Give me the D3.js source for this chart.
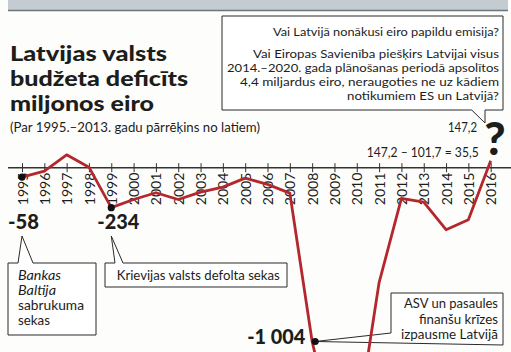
<!DOCTYPE html>
<html><head><meta charset="utf-8">
<script src="https://cdn.jsdelivr.net/npm/d3@7"></script>
<style>
html,body{margin:0;padding:0;background:#fdfdfb;}
svg{display:block;}
text{font-family:Lato,"Open Sans",sans-serif;fill:#1d1d1b;}
</style></head><body>
<svg id="c" width="511" height="352"></svg>
<script>
// ---------- data ----------
const years = [1995,1996,1997,1998,1999,2000,2001,2002,2003,2004,2005,2006,2007,2008,2009,2010,2011,2012,2013,2014,2015,2016];
const yearLabels = ["1995","1996","1997","1998","1999","2000","2001","2002","2003","2004","2005","2006","2007","2008","2009","2010","2011","2012","2013","2014","2015","2016"];
const deficit = [-58,-24,70,-1,-234,-187,-148,-187,-145,-116,-64,-100,-150,-1004,-1550,-1500,-665,-181,-202,-361,-304,35.5];
const markedYears = [1995,1999,2008];
const markedLabels = ["-58","-234","-1 004"];
const titleLines = ["Latvijas valsts","budžeta deficīts","miljonos eiro"];
const subtitle = "(Par 1995.–2013. gadu pārrēķins no latiem)";
const questionLines = ["Vai Latvijā nonākusi eiro papildu emisija?","Vai Eiropas Savienība piešķirs Latvijai visus","2014.–2020. gada plānošanas periodā apsolītos","4,4 miljardus eiro, neraugoties ne uz kādiem","notikumiem ES un Latvijā?"];
const noteBaltija = ["Bankas","Baltija","sabrukuma","sekas"];
const noteRussia = ["Krievijas valsts defolta sekas"];
const noteCrisis = ["ASV un pasaules","finanšu krīzes","izpausme Latvijā"];
const forecastLabel = "147,2";
const formulaLabel = "147,2 – 101,7 = 35,5";

// ---------- drawing ----------
const svg = d3.select("#c");
const W = 511, H = 352;
const x = d3.scaleLinear().domain([1995,2016]).range([22,490.7]);
const y = d3.scaleLinear().domain([0,-1004]).range([167,341.5]);

function fit(sel, widths){
  sel.each(function(d,i){
    const w = widths[i];
    if (w) d3.select(this).attr("textLength", w).attr("lengthAdjust","spacingAndGlyphs");
  });
}

// top grey bar
svg.append("rect").attr("x",8).attr("y",0).attr("width",500).attr("height",10).attr("fill","#c5ccd1");
svg.append("line").attr("x1",8).attr("x2",508).attr("y1",10.5).attr("y2",10.5).attr("stroke","#6d767c").attr("stroke-width",1.5);

// title
const t = svg.append("g");
t.selectAll("text.title").data(titleLines).join("text").attr("class","title")
  .attr("x",10).attr("y",(d,i)=>60.5+i*25)
  .style("font-size","21px").style("font-weight",900).text(d=>d)
  .call(fit,[157,178,144]);
t.append("text").attr("x",10).attr("y",132).style("font-size","13px").text(subtitle).call(fit,[250]);

// callout boxes
const boxStyle = s => s.attr("fill","#fff").attr("stroke","#2a2a2a").attr("stroke-width",1);
svg.append("path").attr("d","M222,16H503V110H485V123L471.7,110H222Z").call(boxStyle);
svg.append("path").attr("d",`M8,263H18L${x(1995)},236L33,263H96V335H8Z`).call(boxStyle);
svg.append("path").attr("d",`M105,263H115L${x(1999)},236L123,263H287V287H105Z`).call(boxStyle);
svg.append("path").attr("d",`M391,293H503V345L${x(2008)+3},${y(-1004)}L391,333Z`).call(boxStyle);

// box texts
svg.append("g").selectAll("text").data(questionLines).join("text")
  .attr("x",499).attr("y",(d,i)=> i===0 ? 36 : 58+(i-1)*14)
  .attr("text-anchor","end").style("font-size","11.6px").text(d=>d)
  .call(fit,[226,246,272,259,152]);
svg.append("g").selectAll("text").data(noteBaltija).join("text")
  .attr("x",18).attr("y",(d,i)=>280+i*15)
  .style("font-size","12.5px").style("font-style",(d,i)=>i<2?"italic":"normal").text(d=>d)
  .call(fit,[43,38,66,32]);
svg.append("g").selectAll("text").data(noteRussia).join("text")
  .attr("x",116.7).attr("y",280).style("font-size","13px").text(d=>d).call(fit,[163]);
svg.append("g").selectAll("text").data(noteCrisis).join("text")
  .attr("x",498).attr("y",(d,i)=>308+i*15.5).attr("text-anchor","end")
  .style("font-size","12.8px").text(d=>d).call(fit,[94,79,97]);

// axis
const axis = d3.axisBottom(x).tickValues(years).tickFormat((d,i)=>yearLabels[i]).tickSizeOuter(0);
const ag = svg.append("g").attr("transform",`translate(0,${y(0)+0.7})`).call(axis);
ag.select(".domain").remove();
ag.insert("line",":first-child").attr("x1",8).attr("x2",W).attr("stroke","#333").attr("stroke-width",1.5);
ag.selectAll(".tick line").attr("y1",-4.5).attr("y2",4.5).attr("stroke","#333").attr("stroke-width",1);
ag.selectAll(".tick text").attr("transform","rotate(-90)").attr("x",-5).attr("y",0).attr("dy","0.36em")
  .style("text-anchor","end").style("font-size","14px").style("font-family","Lato, sans-serif").attr("fill","#1d1d1b");

// line
const pts = years.map((yr,i)=>({year:yr,value:deficit[i]}));
svg.append("path").datum(pts)
  .attr("d",d3.line().x(d=>x(d.year)).y(d=>y(d.value)))
  .attr("fill","none").attr("stroke","#b3272d").attr("stroke-width",2.8).attr("stroke-linejoin","round");

// marked dots and labels
const marked = markedYears.map((yr,i)=>({year:yr,value:deficit[years.indexOf(yr)],label:markedLabels[i]}));
svg.append("g").selectAll("circle").data(marked).join("circle")
  .attr("cx",d=>x(d.year)+(d.year===2008?3:0)).attr("cy",d=>y(d.value)).attr("r",3.6).attr("fill","#111");
svg.append("g").selectAll("text").data(marked).join("text")
  .attr("x",(d,i)=> i===2 ? x(d.year)-7 : x(d.year)-14)
  .attr("y",(d,i)=> i===2 ? y(d.value)+2 : 229)
  .attr("text-anchor",(d,i)=> i===2 ? "end" : "start")
  .style("font-size","20px").style("font-weight",900).text(d=>d.label)
  .call(fit,[31,42,58]);

// forecast annotations
svg.append("text").attr("x",477).attr("y",132).attr("text-anchor","end").style("font-size","13px").text(forecastLabel).call(fit,[29]);
svg.append("text").attr("x",366.7).attr("y",157).style("font-size","13px").text(formulaLabel).call(fit,[112]);
svg.append("text").attr("x",495).attr("y",155).attr("text-anchor","middle")
  .style("font-size","46px").style("font-weight",900).text("?");
</script>
</body></html>
